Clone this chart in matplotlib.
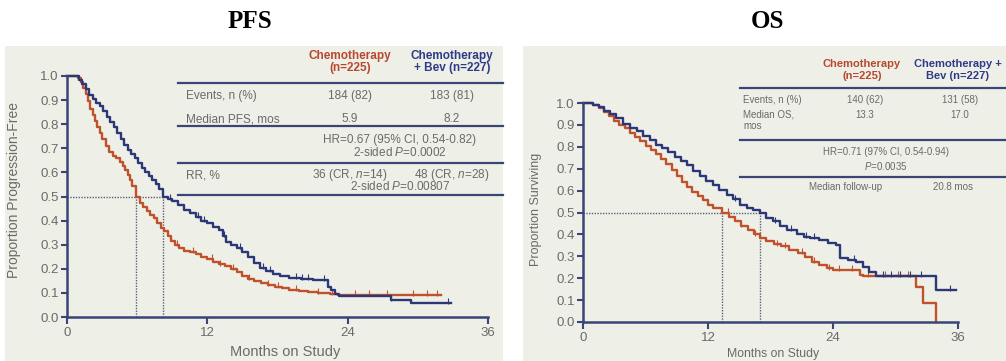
import numpy as np
import matplotlib.pyplot as plt
from matplotlib.patches import Rectangle

plt.rcParams['font.family'] = ['Liberation Sans', 'DejaVu Sans']
plt.rcParams['mathtext.fontset'] = 'custom'
plt.rcParams['mathtext.rm'] = 'Liberation Sans'
plt.rcParams['mathtext.it'] = 'Liberation Sans:italic'

# ---- PFS: Kaplan-Meier knots (months, proportion progression-free) ----
pfs_chemo_t = [0, 0.9, 1.2, 1.4, 1.6, 1.8, 2.0, 2.2, 2.4, 2.6, 2.8, 3.0, 3.3, 3.6, 3.9,
               4.2, 4.5, 4.8, 5.0, 5.2, 5.4, 5.6, 5.9, 6.2, 6.5, 6.8, 7.1, 7.4, 7.7, 8.0,
               8.3, 8.6, 8.9, 9.2, 9.6, 10.0, 10.5, 11.0, 11.5, 12.0, 12.5, 13.0, 13.5,
               14.0, 14.5, 15.0, 15.5, 16.0, 16.6, 17.2, 17.8, 18.4, 19.0, 19.8, 20.6,
               21.5, 22.5, 23.2, 32.0]
pfs_chemo_s = [1.0, 0.99, 0.975, 0.95, 0.925, 0.895, 0.865, 0.84, 0.815, 0.79, 0.765,
               0.74, 0.71, 0.685, 0.67, 0.66, 0.645, 0.625, 0.61, 0.59, 0.57, 0.545, 0.50,
               0.475, 0.455, 0.44, 0.425, 0.41, 0.39, 0.37, 0.355, 0.335, 0.315, 0.30,
               0.285, 0.275, 0.268, 0.26, 0.25, 0.24, 0.228, 0.218, 0.21, 0.198, 0.185,
               0.17, 0.158, 0.148, 0.14, 0.132, 0.125, 0.12, 0.113, 0.108, 0.103, 0.098,
               0.094, 0.09, 0.09]
pfs_bev_t = [0, 1.0, 1.3, 1.6, 1.9, 2.2, 2.5, 2.8, 3.1, 3.4, 3.7, 4.0, 4.3, 4.6, 4.9,
             5.2, 5.5, 5.8, 6.1, 6.4, 6.7, 7.0, 7.3, 7.6, 7.9, 8.2, 8.6, 9.0, 9.5, 10.0,
             10.5, 11.0, 11.5, 12.0, 12.5, 13.0, 13.3, 13.6, 14.0, 14.5, 15.0, 15.5, 16.0,
             16.5, 17.0, 17.6, 18.2, 19.0, 20.0, 21.0, 22.3, 22.6, 22.9, 23.3, 27.7, 29.4,
             32.8]
pfs_bev_s = [1.0, 0.985, 0.965, 0.945, 0.92, 0.905, 0.89, 0.875, 0.855, 0.83, 0.81, 0.79,
             0.765, 0.74, 0.715, 0.695, 0.675, 0.66, 0.64, 0.62, 0.60, 0.585, 0.57, 0.55,
             0.53, 0.50, 0.49, 0.48, 0.465, 0.445, 0.43, 0.415, 0.40, 0.39, 0.375, 0.36,
             0.335, 0.31, 0.30, 0.285, 0.27, 0.25, 0.225, 0.205, 0.19, 0.178, 0.17, 0.162,
             0.157, 0.155, 0.125, 0.11, 0.095, 0.087, 0.072, 0.06, 0.06]
pfs_chemo_cens = [9.4, 10.8, 12.4, 13.1, 14.2, 15.6, 17.2, 18.0, 19.6, 21.5, 22.7, 24.6,
                  25.8, 27.4, 29.6, 30.8, 31.6]
pfs_bev_cens = [8.8, 11.2, 11.7, 13.4, 14.8, 16.8, 17.4, 19.6, 20.1, 20.6, 22.0, 27.7, 32.6]

# ---- OS: Kaplan-Meier knots (months, proportion surviving) ----
os_chemo_t = [0, 1.0, 1.5, 2.0, 2.5, 3.0, 3.5, 4.0, 4.5, 5.0, 5.5, 6.0, 6.5, 7.0, 7.5, 8.0,
              8.5, 9.0, 9.5, 10.0, 10.5, 11.0, 11.5, 12.0, 12.5, 13.3, 14.0, 14.6, 15.2,
              15.8, 16.4, 17.0, 17.6, 18.3, 19.0, 19.8, 20.6, 21.3, 22.0, 22.7, 23.4, 24.0,
              26.6, 26.9, 32.0, 32.6, 33.9]
os_chemo_s = [1.0, 0.99, 0.975, 0.96, 0.94, 0.92, 0.90, 0.885, 0.865, 0.845, 0.825, 0.805,
              0.785, 0.765, 0.745, 0.72, 0.695, 0.665, 0.64, 0.615, 0.595, 0.575, 0.555,
              0.535, 0.52, 0.50, 0.48, 0.46, 0.44, 0.42, 0.40, 0.385, 0.37, 0.355, 0.345,
              0.33, 0.315, 0.295, 0.275, 0.26, 0.245, 0.237, 0.215, 0.21, 0.16, 0.087, 0.0]
os_bev_t = [0, 1.0, 1.5, 2.0, 2.6, 3.2, 3.8, 4.5, 5.2, 5.8, 6.4, 7.0, 7.6, 8.2, 8.8, 9.4,
            10.0, 10.6, 11.2, 11.8, 12.5, 13.1, 13.8, 14.4, 15.1, 15.7, 16.3, 17.0, 17.6,
            18.2, 18.9, 19.6, 20.5, 21.2, 21.8, 22.7, 23.5, 24.3, 24.7, 25.4, 26.2, 26.9,
            27.5, 28.1, 33.9, 35.8]
os_bev_s = [1.0, 0.99, 0.98, 0.965, 0.95, 0.93, 0.905, 0.885, 0.87, 0.85, 0.83, 0.81,
            0.795, 0.775, 0.755, 0.735, 0.715, 0.69, 0.665, 0.645, 0.625, 0.605, 0.58,
            0.56, 0.535, 0.52, 0.51, 0.50, 0.475, 0.46, 0.44, 0.42, 0.40, 0.39, 0.385,
            0.375, 0.36, 0.35, 0.29, 0.285, 0.275, 0.25, 0.23, 0.21, 0.145, 0.145]
os_chemo_cens = [13.9, 15.2, 16.5, 18.6, 19.4, 21.0, 22.2, 23.6, 24.6, 25.8, 27.4, 29.0,
                 30.2, 31.2]
os_bev_cens = [14.6, 18.4, 20.0, 21.4, 22.2, 26.0, 28.8, 29.6, 30.4, 31.4, 32.4, 35.2]

# medians (months) from the summary tables
pfs_medians = [5.9, 8.2]
os_medians = [13.3, 17.0]

x_ticks = [0, 12, 24, 36]

PANEL = '#eef0e7'
NAVY = '#3a4577'
RED = '#c0512d'
BLUE = '#2c3777'
RED_HDR = '#b8472f'
BLUE_HDR = '#2d3a88'
GREY = '#6a6a6a'
TXT = '#6a6a6a'
DOT = '#55607c'

W, H = 1006, 361
fig = plt.figure(figsize=(W / 100, H / 100), dpi=100)

# full-figure pixel canvas for panel backgrounds, titles and summary tables
bg = fig.add_axes([0, 0, 1, 1], zorder=0)
bg.set_xlim(0, W)
bg.set_ylim(H, 0)
bg.axis('off')

bg.add_patch(Rectangle((5, 46), 498, 315, color=PANEL, lw=0))
bg.add_patch(Rectangle((523, 46), 483, 315, color=PANEL, lw=0))

bg.text(250, 22, 'PFS', ha='center', va='center', fontsize=18, fontweight='bold',
        family='Liberation Serif')
bg.text(768, 22, 'OS', ha='center', va='center', fontsize=18, fontweight='bold',
        family='Liberation Serif')


def km_axes(x0, x1, y0, y1):
    # x0/x1: pixel columns of 0 and 36 months; y0/y1: pixel rows of 0.0 and 1.0
    ax = fig.add_axes([x0 / W, (H - y0) / H, (x1 - x0) / W, (y0 - y1) / H], zorder=2)
    ax.set_facecolor('none')
    ax.set_xlim(0, 36)
    ax.set_ylim(0, 1)
    for side in ['top', 'right']:
        ax.spines[side].set_visible(False)
    for side in ['left', 'bottom']:
        ax.spines[side].set_color(NAVY)
        ax.spines[side].set_linewidth(1.8)
    ax.set_xticks(x_ticks)
    ax.set_yticks(np.arange(0, 1.01, 0.1))
    ax.set_yticklabels(['%.1f' % v for v in np.arange(0, 1.01, 0.1)])
    ax.tick_params(axis='both', colors=NAVY, labelcolor=GREY, labelsize=9.5,
                   width=1.5, length=4, pad=2)
    ax.tick_params(axis='x', length=5)
    return ax


def draw_curve(ax, t, s, cens, color):
    t = np.asarray(t)
    s = np.asarray(s)
    ax.step(t, s, where='post', color=color, lw=1.7, clip_on=False)
    idx = np.searchsorted(t, cens, side='right') - 1
    ax.plot(cens, s[idx] + 0.008, '|', color=color, ms=4, mew=0.8, clip_on=False)


def median_lines(ax, medians):
    ax.plot([0, max(medians)], [0.5, 0.5], ls=(0, (1, 1)), color=DOT, lw=1)
    for m in medians:
        ax.plot([m, m], [0, 0.5], ls=(0, (1, 1)), color=DOT, lw=1)


# ---- PFS panel ----
ax1 = km_axes(67, 488, 317, 76)
median_lines(ax1, pfs_medians)
draw_curve(ax1, pfs_chemo_t, pfs_chemo_s, pfs_chemo_cens, RED)
draw_curve(ax1, pfs_bev_t, pfs_bev_s, pfs_bev_cens, BLUE)
bg.text(285, 352, 'Months on Study', ha='center', va='center', fontsize=10.5, color=GREY)
bg.text(14, 190, 'Proportion Progression-Free', ha='center', va='center', rotation=90,
        fontsize=10, color=GREY)

# ---- OS panel ----
ax2 = km_axes(583, 958, 322, 103)
median_lines(ax2, os_medians)
draw_curve(ax2, os_chemo_t, os_chemo_s, os_chemo_cens, RED)
draw_curve(ax2, os_bev_t, os_bev_s, os_bev_cens, BLUE)
bg.text(773, 354, 'Months on Study', ha='center', va='center', fontsize=8.8, color=GREY)
bg.text(536, 209, 'Proportion Surviving', ha='center', va='center', rotation=90,
        fontsize=9, color=GREY)


def hline(y, x0, x1):
    bg.plot([x0, x1], [y, y], color=NAVY, lw=1.6)


def cell(x, y, s, size, ha='center', **kw):
    bg.text(x, y, s, ha=ha, va='center', fontsize=size, color=TXT, **kw)


# ---- PFS summary table ----
fs = 8.5
bg.text(350, 62, 'Chemotherapy\n(n=225)', ha='center', va='center', fontsize=fs,
        fontweight='bold', color=RED_HDR, linespacing=1.1)
bg.text(452, 62, 'Chemotherapy\n+ Bev (n=227)', ha='center', va='center', fontsize=fs,
        fontweight='bold', color=BLUE_HDR, linespacing=1.1)
hline(83, 178, 503)
cell(186, 96, 'Events, n (%)', fs, ha='left')
cell(350, 96, '184 (82)', fs)
cell(452, 96, '183 (81)', fs)
cell(186, 119, 'Median PFS, mos', fs, ha='left')
cell(350, 119, '5.9', fs)
cell(452, 119, '8.2', fs)
hline(126, 178, 503)
cell(400, 140, 'HR=0.67 (95% CI, 0.54-0.82)', fs)
cell(400, 152, '2-sided $P$=0.0002', fs)
hline(163, 178, 503)
cell(186, 175, 'RR, %', fs, ha='left')
cell(350, 175, '36 (CR, $n$=14)', fs)
cell(452, 175, '48 (CR, $n$=28)', fs)
cell(400, 187, '2-sided $P$=0.00807', fs)
hline(195, 178, 503)

# ---- OS summary table ----
fs2 = 7
bg.text(862, 70, 'Chemotherapy\n(n=225)', ha='center', va='center', fontsize=8,
        fontweight='bold', color=RED_HDR, linespacing=1.15)
bg.text(958, 70, 'Chemotherapy +\nBev (n=227)', ha='center', va='center', fontsize=8,
        fontweight='bold', color=BLUE_HDR, linespacing=1.15)
hline(88, 740, 1006)
cell(743, 100, 'Events, n (%)', fs2, ha='left')
cell(865, 100, '140 (62)', fs2)
cell(960, 100, '131 (58)', fs2)
cell(743, 120, 'Median OS,\nmos', fs2, ha='left', linespacing=1.2)
cell(865, 115, '13.3', fs2)
cell(960, 115, '17.0', fs2)
hline(140, 740, 1006)
cell(886, 152, 'HR=0.71 (97% CI, 0.54-0.94)', fs2)
cell(886, 166, '$P$=0.0035', fs2)
hline(177, 740, 1006)
cell(846, 187, 'Median follow-up', fs2)
cell(953, 187, '20.8 mos', fs2)

fig.savefig('out.png', dpi=100, facecolor='white')
